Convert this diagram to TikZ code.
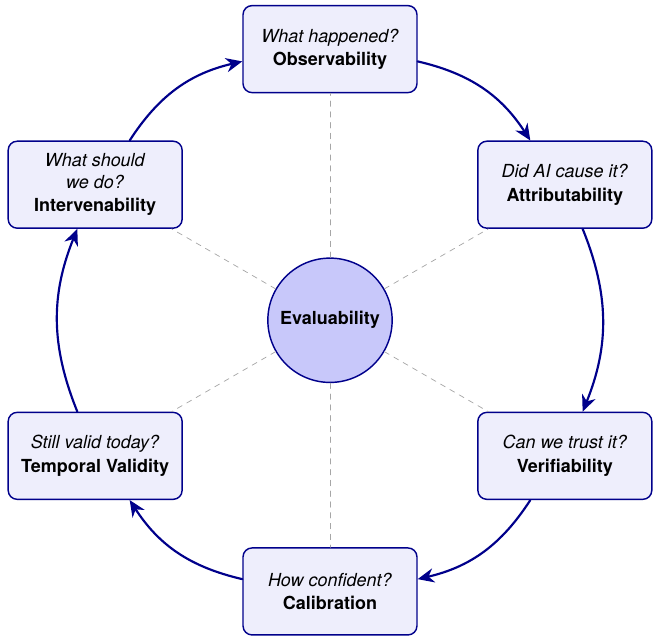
\documentclass[tikz,border=0pt]{standalone}
\usepackage{fontspec}
\setmainfont{TeX Gyre Heros}
\setsansfont{TeX Gyre Heros}
\usetikzlibrary{arrows.meta}
\definecolor{EvNavy}{HTML}{00008B}
\definecolor{EvBoxFill}{HTML}{EEEEFC}
\definecolor{EvCore}{HTML}{C8C8FA}

\begin{document}
\begin{tikzpicture}[line cap=round,line join=round,font=\sffamily,
  stage/.style={draw=EvNavy,fill=EvBoxFill,line width=0.8pt,rounded corners=5pt,
    minimum width=3.4cm,minimum height=1.7cm,align=center},
  flow/.style={-{Stealth[length=3.2mm,width=2.8mm]},EvNavy,line width=1.2pt,bend left=22},
  spoke/.style={gray!70,dashed,line width=0.4pt}]
  \useasboundingbox (-6.45,-6.31) rectangle (6.45,6.26);
  % centre
  \node[circle,draw=EvNavy,fill=EvCore,line width=0.8pt,minimum size=2.43cm,font=\sffamily\bfseries] (core) at (0,0) {Evaluability};
  % the six stages
  \node[stage] (obs) at (90:5.3) {\textit{What happened?}\\[1pt]\textbf{Observability}};
  \node[stage] (attr) at (30:5.3) {\textit{Did AI cause it?}\\[1pt]\textbf{Attributability}};
  \node[stage] (verif) at (-30:5.3) {\textit{Can we trust it?}\\[1pt]\textbf{Verifiability}};
  \node[stage] (calib) at (-90:5.3) {\textit{How confident?}\\[1pt]\textbf{Calibration}};
  \node[stage] (temp) at (-150:5.3) {\textit{Still valid today?}\\[1pt]\textbf{Temporal Validity}};
  \node[stage] (interv) at (150:5.3) {\textit{What should}\\\textit{we do?}\\[1pt]\textbf{Intervenability}};
  % spokes
  \draw[spoke] (core) -- (obs);
  \draw[spoke] (core) -- (attr);
  \draw[spoke] (core) -- (verif);
  \draw[spoke] (core) -- (calib);
  \draw[spoke] (core) -- (temp);
  \draw[spoke] (core) -- (interv);
  % cycle
  \draw[flow] (obs) to (attr);
  \draw[flow] (attr) to (verif);
  \draw[flow] (verif) to (calib);
  \draw[flow] (calib) to (temp);
  \draw[flow] (temp) to (interv);
  \draw[flow] (interv) to (obs);
\end{tikzpicture}
\end{document}
